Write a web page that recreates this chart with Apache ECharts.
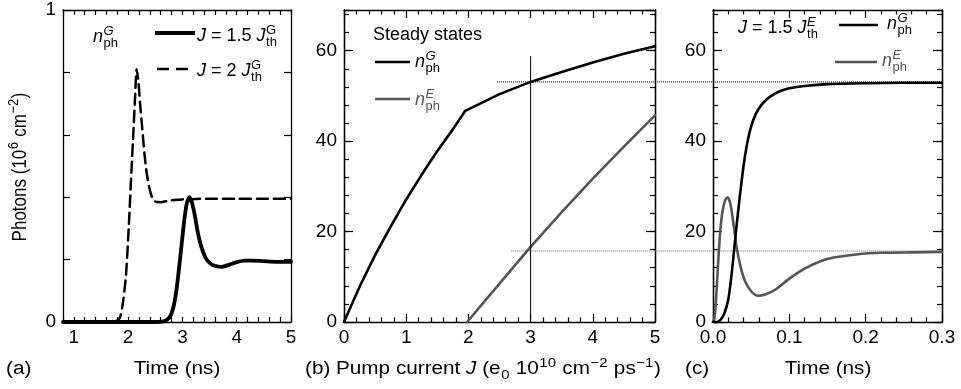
<!DOCTYPE html>
<html><head><meta charset="utf-8">
<script src="https://cdn.jsdelivr.net/npm/echarts@6/dist/echarts.min.js"></script>
<style>html,body{margin:0;padding:0;background:#fff}#c{width:961px;height:389px}</style>
</head><body><div id="c"></div>
<script>
// ---------- data ----------
// (a) photon density n_ph^G (10^6 cm^-2) vs time (ns)
const aDashT = [0.8, 1.5, 1.8, 1.86, 1.91, 1.96, 2.01, 2.06, 2.1, 2.13, 2.157, 2.19, 2.22, 2.26, 2.30, 2.34, 2.39, 2.44, 2.5, 2.6, 2.75, 3.0, 3.5, 4.0, 4.5, 5.0];
const aDashN = [0, 0, 0.004, 0.02, 0.07, 0.15, 0.30, 0.48, 0.62, 0.73, 0.81, 0.77, 0.70, 0.62, 0.54, 0.48, 0.43, 0.40, 0.386, 0.384, 0.389, 0.393, 0.395, 0.395, 0.395, 0.395];
const aSolT = [0.8, 2.5, 2.65, 2.72, 2.78, 2.83, 2.88, 2.93, 2.98, 3.03, 3.08, 3.13, 3.18, 3.23, 3.28, 3.35, 3.43, 3.51, 3.6, 3.72, 3.85, 4.0, 4.15, 4.3, 4.5, 4.75, 5.0];
const aSolN = [0, 0, 0.002, 0.008, 0.02, 0.045, 0.09, 0.16, 0.24, 0.32, 0.38, 0.40, 0.38, 0.34, 0.29, 0.24, 0.205, 0.188, 0.18, 0.177, 0.183, 0.192, 0.197, 0.197, 0.195, 0.193, 0.193];
// (b) steady states vs pump current J
const bGJ = [0, 0.25, 0.5, 0.75, 1.0, 1.25, 1.5, 1.75, 1.95, 2.5, 3.0, 3.5, 4.0, 4.5, 5.0];
const bGN = [0, 7.8, 14.8, 21.1, 27.1, 32.6, 37.8, 42.6, 46.7, 50.4, 53.1, 55.3, 57.4, 59.3, 61.0];
const bEJ = [1.98, 2.5, 3.0, 3.5, 4.0, 4.5, 5.0];
const bEN = [0, 8.5, 16.6, 24.3, 31.7, 38.8, 45.7];
const bVertJ = [3, 3];
const bVertN = [0, 58.7];
// guide levels (dotted) : [start J in (b), level]
const guideStartJ = [2.46, 2.69];
const guideLevel = [53.1, 15.7];
// (c) transients at J = 1.5 J_th^E
const cGT = [0, 0.005, 0.01, 0.015, 0.02, 0.024, 0.028, 0.032, 0.036, 0.04, 0.044, 0.048, 0.053, 0.06, 0.07, 0.08, 0.09, 0.1, 0.12, 0.15, 0.2, 0.25, 0.3];
const cGN = [0, 0, 0.5, 2, 5, 10, 16.5, 23, 29, 34.5, 38.8, 42, 44.8, 47.2, 49.2, 50.4, 51.2, 51.7, 52.2, 52.6, 52.8, 52.9, 52.9];
const cET = [0, 0.002, 0.004, 0.006, 0.009, 0.012, 0.016, 0.019, 0.023, 0.027, 0.031, 0.036, 0.042, 0.05, 0.059, 0.07, 0.083, 0.1, 0.12, 0.14, 0.16, 0.19, 0.22, 0.26, 0.3];
const cEN = [0, 1, 5, 11, 19, 24, 27, 27.6, 26, 21.5, 16.5, 12.3, 9, 6.8, 5.8, 6.2, 7.3, 9.6, 11.8, 13.4, 14.3, 15, 15.3, 15.4, 15.5];

// ---------- style ----------
const FONT = '"Liberation Sans", Arial, Helvetica, sans-serif';
const GREY = '#555555';
const FS = 18;      // legend text
const TFS = 19;     // tick labels

function pairs(xs, ys) { return xs.map((x, i) => [x, ys[i]]); }

function axis(opt) {
  return {
    type: 'value', gridIndex: opt.grid, min: opt.min, max: opt.max, interval: opt.interval,
    position: opt.pos,
    axisLine: { show: true, onZero: false, lineStyle: { color: '#000', width: 1.3 } },
    axisTick: { show: true, inside: true, length: opt.tick, lineStyle: { color: '#000', width: 1.2 } },
    minorTick: opt.minor ? { show: true, splitNumber: 5, length: 4.5, lineStyle: { color: '#000', width: 1.2 } } : { show: false },
    axisLabel: { show: !!opt.fmt, formatter: opt.fmt, color: '#000', fontSize: TFS, fontFamily: FONT, margin: opt.margin || 7 },
    splitLine: { show: false }
  };
}
const intFmt = v => Math.abs(v - Math.round(v)) < 1e-6 ? String(Math.round(v)) : '';
const aYFmt = v => (Math.abs(v) < 1e-9 || Math.abs(v - 1) < 1e-9) ? String(Math.round(v)) : '';
const y20Fmt = v => (Math.abs(v % 20) < 1e-9) ? String(v) : '';

const xAxes = [
  axis({ grid: 0, min: 0.8, max: 5, interval: 0.2, pos: 'bottom', tick: 5, fmt: intFmt, margin: 6 }),
  axis({ grid: 0, min: 0.8, max: 5, interval: 0.2, pos: 'top', tick: 5 }),
  axis({ grid: 1, min: 0, max: 5, interval: 1, pos: 'bottom', tick: 8, minor: true, fmt: v => String(v), margin: 6 }),
  axis({ grid: 1, min: 0, max: 5, interval: 1, pos: 'top', tick: 8, minor: true }),
  axis({ grid: 2, min: 0, max: 0.3, interval: 0.1, pos: 'bottom', tick: 8, minor: true, fmt: v => v.toFixed(1), margin: 6 }),
  axis({ grid: 2, min: 0, max: 0.3, interval: 0.1, pos: 'top', tick: 8, minor: true })
];
const yAxes = [
  axis({ grid: 0, min: 0, max: 1, interval: 0.2, pos: 'left', tick: 7, fmt: aYFmt }),
  axis({ grid: 0, min: 0, max: 1, interval: 0.2, pos: 'right', tick: 7 }),
  axis({ grid: 1, min: 0, max: 69, interval: 4, pos: 'left', tick: 5 }),
  axis({ grid: 1, min: 0, max: 69, interval: 20, pos: 'left', tick: 9, fmt: y20Fmt }),
  axis({ grid: 1, min: 0, max: 69, interval: 4, pos: 'right', tick: 5 }),
  axis({ grid: 1, min: 0, max: 69, interval: 20, pos: 'right', tick: 9 }),
  axis({ grid: 2, min: 0, max: 69, interval: 4, pos: 'left', tick: 5 }),
  axis({ grid: 2, min: 0, max: 69, interval: 20, pos: 'left', tick: 9, fmt: y20Fmt }),
  axis({ grid: 2, min: 0, max: 69, interval: 4, pos: 'right', tick: 5 }),
  axis({ grid: 2, min: 0, max: 69, interval: 20, pos: 'right', tick: 9 })
];

function line(xi, yi, xs, ys, color, width, type, smooth) {
  return {
    type: 'line', xAxisIndex: xi, yAxisIndex: yi, data: pairs(xs, ys),
    symbol: 'none', showSymbol: false, smooth: smooth,
    lineStyle: { color: color, width: width, type: type, join: 'round', cap: 'round' }, animation: false, z: 3
  };
}

const chart = echarts.init(document.getElementById('c'));
chart.setOption({
  animation: false,
  backgroundColor: '#fff',
  grid: [
    { left: 63, top: 10, width: 228, height: 312 },
    { left: 344, top: 10, width: 311, height: 312 },
    { left: 713, top: 10, width: 229, height: 312 }
  ],
  xAxis: xAxes,
  yAxis: yAxes,
  series: [
    line(0, 0, aDashT, aDashN, '#000', 2.5, [11, 6], 0.25),
    line(0, 0, aSolT, aSolN, '#000', 3.8, 'solid', 0.25),
    line(2, 3, bGJ, bGN, '#000', 2.6, 'solid', false),
    line(2, 3, bEJ, bEN, GREY, 2.6, 'solid', false),
    line(2, 3, bVertJ, bVertN, '#000', 1, 'solid', false),
    line(4, 7, cET, cEN, GREY, 2.6, 'solid', 0.25),
    line(4, 7, cGT, cGN, '#000', 2.6, 'solid', 0.25)
  ]
});

// ---------- text helpers ----------
const mctx = document.createElement('canvas').getContext('2d');
function fontStr(fs, it) { return (it ? 'italic ' : '') + fs + 'px ' + FONT; }
function mw(s, fs, it) { mctx.font = fontStr(fs, it); return mctx.measureText(s).width; }
function T(x, baseline, s, fs, it, color, align) {
  return {
    type: 'text', x: x, y: baseline - 0.35 * fs, silent: true, z: 10,
    style: { text: s, fill: color || '#000', fontSize: fs, fontFamily: FONT, fontStyle: it ? 'italic' : 'normal', align: align || 'left', verticalAlign: 'middle' }
  };
}
const SFS = 13;
// pieces: {t, it} | {sup, sub, supIt, subIt}
function seq(x, B, pieces, color, fs) {
  fs = fs || FS;
  const out = [];
  let cx = x;
  pieces.forEach(p => {
    if (p.t !== undefined) {
      out.push(T(cx, B, p.t, fs, p.it, color));
      cx += mw(p.t, fs, p.it);
    } else {
      let w = 0;
      if (p.sup) { out.push(T(cx + 0.5, B - 7, p.sup, SFS, p.supIt, color)); w = Math.max(w, mw(p.sup, SFS, p.supIt)); }
      if (p.sub) { out.push(T(cx + 0.5, B + 5, p.sub, SFS, p.subIt, color)); w = Math.max(w, mw(p.sub, SFS, p.subIt)); }
      cx += w + 1;
    }
  });
  return { els: out, width: cx - x };
}
function L(x1, y1, x2, y2, color, w, dash) {
  return { type: 'line', silent: true, z: 10, shape: { x1, y1, x2, y2 }, style: { stroke: color, lineWidth: w, lineDash: dash || null } };
}
// horizontally stretched title (the source figure's lettering is wide)
const SX = 1.15;
function title(x, B, pieces, center) {
  const s = seq(0, B, pieces, '#000', 18);
  const shift = center ? -s.width / 2 : 0;
  s.els.forEach(e => { e.x += shift; });
  return { type: 'group', x: x, y: 0, scaleX: SX, scaleY: 1, children: s.els };
}

const g = [];
// legend (a)
g.push(...seq(93, 43, [{ t: 'n', it: true }, { sup: 'G', sub: 'ph', supIt: true }]).els);
g.push(L(155, 33, 195, 33, '#000', 3.8));
g.push(...seq(197, 42, [{ t: 'J', it: true }, { t: ' = 1.5 ' }, { t: 'J', it: true }, { sup: 'G', sub: 'th' }]).els);
g.push(L(157, 69, 195, 69, '#000', 2.5, [12, 7]));
g.push(...seq(197, 77, [{ t: 'J', it: true }, { t: ' = 2 ' }, { t: 'J', it: true }, { sup: 'G', sub: 'th' }]).els);
// legend (b)
g.push(T(373, 41, 'Steady states', FS, false, '#000'));
g.push(L(375, 62, 410, 62, '#000', 2.6));
g.push(...seq(415, 68, [{ t: 'n', it: true }, { sup: 'G', sub: 'ph', supIt: true }]).els);
g.push(L(375, 99, 410, 99, GREY, 2.6));
g.push(...seq(415, 106, [{ t: 'n', it: true }, { sup: 'E', sub: 'ph', supIt: true }], GREY).els);
// legend (c)
g.push(...seq(738, 34, [{ t: 'J', it: true }, { t: ' = 1.5 ' }, { t: 'J', it: true }, { sup: 'E', sub: 'th', supIt: true }]).els);
g.push(L(839, 25, 878, 25, '#000', 2.6));
g.push(...seq(887, 30, [{ t: 'n', it: true }, { sup: 'G', sub: 'ph', supIt: true }]).els);
g.push(L(835, 62, 877, 62, GREY, 2.6));
g.push(...seq(882, 67, [{ t: 'n', it: true }, { sup: 'E', sub: 'ph', supIt: true }], GREY).els);

// bottom titles
g.push(title(6, 375, [{ t: '(a)' }], false));
g.push(title(177, 375, [{ t: 'Time (ns)' }], true));
g.push(title(305, 375, [{ t: '(b) Pump current ' }, { t: 'J', it: true }, { t: ' (e' }, { sub: '0' }, { t: ' 10' }, { sup: '10' }, { t: ' cm' }, { sup: '\u22122' }, { t: ' ps' }, { sup: '\u22121' }, { t: ')' }], false));
g.push(title(685, 375, [{ t: '(c)' }], false));
g.push(title(828, 375, [{ t: 'Time (ns)' }], true));

// rotated y name
const yn = seq(0, 0, [{ t: 'Photons (10' }, { sup: '6' }, { t: ' cm' }, { sup: '\u22122' }, { t: ')' }], '#000', 17);
yn.els.forEach(e => { e.x -= yn.width / 2; });
g.push({ type: 'group', x: 27, y: 167, rotation: Math.PI / 2, scaleX: 1, scaleY: SX, children: yn.els });

// guide lines crossing (b) and (c)
guideLevel.forEach((lv, i) => {
  const p1 = chart.convertToPixel({ xAxisIndex: 2, yAxisIndex: 3 }, [guideStartJ[i], lv]);
  const p2 = chart.convertToPixel({ xAxisIndex: 4, yAxisIndex: 7 }, [0.3, lv]);
  g.push({ type: 'line', silent: true, z: 1, shape: { x1: p1[0], y1: p1[1], x2: p2[0], y2: p2[1] }, style: { stroke: i === 0 ? '#000' : '#666', lineWidth: 1, lineDash: [1, 1] } });
});

chart.setOption({ graphic: g });
</script>
</body></html>
